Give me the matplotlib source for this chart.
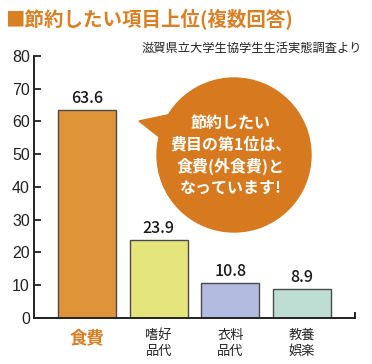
import matplotlib.pyplot as plt
from matplotlib.patches import Circle, Polygon

plt.rcParams['font.family'] = ['Noto Sans CJK JP', 'DejaVu Sans']

categories = ["食費", "嗜好\n品代", "衣料\n品代", "教養\n娯楽"]
values = [63.6, 23.9, 10.8, 8.9]
bar_colors = ["#DF943A", "#E4E67C", "#B4BBE0", "#BFDED3"]
title = "■節約したい項目上位(複数回答)"
source = "滋賀県立大学生協学生生活実態調査より"
bubble_lines = ["節約したい", "費目の第1位は、", "食費(外食費)と", "なっています!"]

orange = "#D97F24"
axis_color = "#222222"

fig = plt.figure(figsize=(3.72, 3.64), dpi=100)
ax = fig.add_axes([0.0914, 0.1264, 0.863, 0.7198])

x = list(range(len(categories)))
ax.bar(x, values, width=0.81, color=bar_colors, edgecolor="#4a4a4a", linewidth=1.0, zorder=2)
for xi, v in zip(x, values):
    ax.annotate(f"{v}", (xi, v), xytext=(0, 2), textcoords="offset points",
                ha="center", va="bottom", fontsize=11.5, fontweight="medium", color="#1a1a1a")

ax.set_xlim(-0.74, 3.74)
ax.set_ylim(0, 80)
ax.set_yticks(range(0, 81, 10))
ax.set_xticks(x)
ax.set_xticklabels(categories, fontsize=9.5, linespacing=1.25, color="#222222")
first = ax.get_xticklabels()[0]
first.set_color(orange)
first.set_fontsize(12.5)
first.set_fontweight("bold")

ax.tick_params(axis="y", direction="in", length=5, width=1.3, colors=axis_color,
               labelsize=11.5, pad=3)
ax.tick_params(axis="x", length=0, pad=8)
for lab in ax.get_yticklabels():
    lab.set_family(["Liberation Sans", "DejaVu Sans"])

for side in ["top", "right"]:
    ax.spines[side].set_visible(False)
for side in ["left", "bottom"]:
    ax.spines[side].set_linewidth(1.4)
    ax.spines[side].set_color(axis_color)
# small upturn at the right end of the baseline
ax.axvline(3.74, ymin=0, ymax=0.02, color=axis_color, linewidth=1.4, clip_on=False)

# overlay in pixel units for title and speech bubble
ov = fig.add_axes([0, 0, 1, 1], zorder=5)
ov.set_xlim(0, 372)
ov.set_ylim(364, 0)
ov.axis("off")
ov.patch.set_alpha(0)

ov.text(5, 19, title, fontsize=14, fontweight="bold", color=orange, ha="left", va="center")
ov.text(362, 48, source, fontsize=8.8, color="#222222", ha="right", va="center")

ov.add_patch(Circle((234, 155), 77, color="#D6791F", zorder=3))
ov.add_patch(Polygon([(139, 121), (172, 114), (163, 140)], closed=True, color="#D6791F", zorder=3))
for i, line in enumerate(bubble_lines):
    ov.text(231, 123 + i * 21.7, line, fontsize=11.5, fontweight="bold", color="white",
            ha="center", va="center", zorder=4)

fig.savefig("out.png", dpi=100)
